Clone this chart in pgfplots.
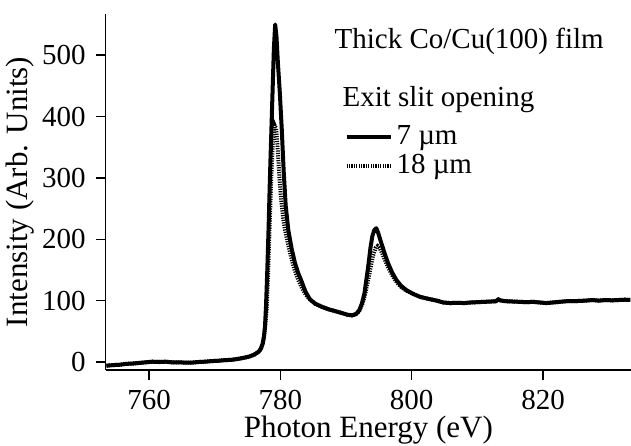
\documentclass[border=0pt]{standalone}
\usepackage{pgfplots}
\usepackage{pgfplotstable}
\pgfplotsset{compat=1.18}
\usepackage{fontspec}
\setmainfont{Liberation Serif}

% 7 um exit slit
\pgfplotstableread{
x y
753.5 -6
754.5 -5
755.5 -4.5
756.5 -3
757.5 -2.5
758.5 -1.5
759.5 -0.5
760.5 0.5
761.5 0
762.5 0.5
763.5 -0.5
764.5 -0.5
765.5 -1
766.5 -1
767.5 0
768.5 0.5
769.5 1.5
770.5 2
771.5 3
772.5 3.5
773.5 5
774.5 7
775.3 9
776 12
776.6 16
777 21
777.3 30
777.5 42
777.65 58
777.8 90
778.0 150
778.2 220
778.4 300
778.6 370
778.8 440
779.0 510
779.2 550
779.4 530
779.6 490
779.9 440
780.2 380
780.5 310
780.8 255
781.2 215
781.7 185
782.2 162
782.7 145
783.2 132
783.8 115
784.5 102
785.3 95
786.3 90
787.3 86
788.3 83
789.3 80
790.2 77
790.9 76
791.5 78
792 84
792.4 95
792.8 112
793.1 135
793.4 158
793.7 185
794.0 205
794.3 215
794.6 218
794.9 210
795.3 196
795.9 176
796.4 161
797.0 146
797.7 133
798.4 124
799.2 117
800.2 111
801.3 106
802.5 103
803.8 100
804.8 97
805.8 96
807 96.5
808 96
809 97
810 97.5
811 98
812 98.5
812.8 99
813.2 102
813.6 100
814.5 99
815.5 98.5
816.5 98
817.5 97.5
818.5 98
819.5 97
820.5 96
821.5 97
822.5 98
823.5 99
824.5 99
825.5 99.5
826.5 100
827.5 101
828.5 100
829.5 101
830.5 100.5
831.5 101
832.5 101.5
833.3 101
}\slitseven

% 18 um exit slit
\pgfplotstableread{
x y
753.5 -6
754.5 -5
755.5 -4.5
756.5 -3
757.5 -2.5
758.5 -1.5
759.5 -0.5
760.5 0.5
761.5 0
762.5 0.5
763.5 -0.5
764.5 -0.5
765.5 -1
766.5 -1
767.5 0
768.5 0.5
769.5 1.5
770.5 2
771.5 3
772.5 3.5
773.5 5
774.5 7
775.3 9
776 12
776.6 16
777 21
777.3 30
777.5 42
777.65 55
777.9 85
778.1 140
778.35 220
778.6 300
778.85 360
779.1 386
779.35 380
779.6 345
779.85 300
780.1 265
780.4 235
780.7 215
781.1 195
781.6 172
782.1 152
782.7 134
783.3 120
783.9 109
784.5 102
785.3 95
786.3 90
787.3 86
788.3 83
789.3 80
790.2 77
790.9 76
791.5 78
792 83
792.5 95
792.9 110
793.3 130
793.7 152
794.1 173
794.5 186
794.8 189
795.1 186
795.5 177
796.0 164
796.5 152
797.1 140
797.7 130
798.4 122
799.2 116
800.2 111
801.3 106
802.5 103
803.8 100
804.8 97
805.8 96
807 96.5
808 96
809 97
810 97.5
811 98
812 98.5
812.8 99
813.2 102
813.6 100
814.5 99
815.5 98.5
816.5 98
817.5 97.5
818.5 98
819.5 97
820.5 96
821.5 97
822.5 98
823.5 99
824.5 99
825.5 99.5
826.5 100
827.5 101
828.5 100
829.5 101
830.5 100.5
831.5 101
832.5 101.5
833.3 101
}\sliteighteen

\begin{document}
\fontsize{14.5}{17}\selectfont
\begin{tikzpicture}
\begin{axis}[
  name=ax,
  scale only axis,
  width=262.6pt, height=178pt,
  xmin=753.4, xmax=833.4,
  ymin=-13, ymax=567,
  axis x line*=bottom, axis y line*=left,
  axis line style={line width=0.7pt, black},
  xtick={760,780,800,820},
  ytick={0,100,200,300,400,500},
  tick align=outside, major tick length=5pt,
  tick style={line width=0.7pt, black},
  /pgf/number format/assume math mode=true,
  tick label style={font=\fontsize{14.5}{17}\selectfont},
  label style={font=\fontsize{15.5}{18}\selectfont},
  xlabel={Photon Energy (eV)},
  ylabel={Intensity (Arb. Units)},
  xlabel style={at={(axis description cs:0.5,-0.168)}, anchor=center},
  ylabel style={at={(axis description cs:-0.164,0.5)}, anchor=center},
  legend style={at={(axis cs:789.7,393)}, anchor=north west,
                draw=none, fill=none, inner sep=0pt,
                row sep=-1pt, font=\fontsize{14.5}{17}\selectfont},
  legend cell align=left,
  legend image code/.code={\draw[#1] (0pt,0pt) -- (22pt,0pt);},
]
\addplot[black, line width=2pt, line join=round] table {\slitseven};
\addlegendentry{7 µm}
\addplot[black, line width=2pt, dash pattern=on 0.6pt off 0.6pt] table {\sliteighteen};
\addlegendentry{18 µm}

\node[anchor=base west, inner sep=0pt] at (axis cs:788.2,511) {Thick Co/Cu(100) film};
\node[anchor=base west, inner sep=0pt] at (axis cs:789.4,416) {Exit slit opening};
\end{axis}
\pgfresetboundingbox
\path[use as bounding box] ([xshift=-52.9pt,yshift=-38pt]ax.south west)
  rectangle ([yshift=7pt]ax.north east);
\end{tikzpicture}
\end{document}
